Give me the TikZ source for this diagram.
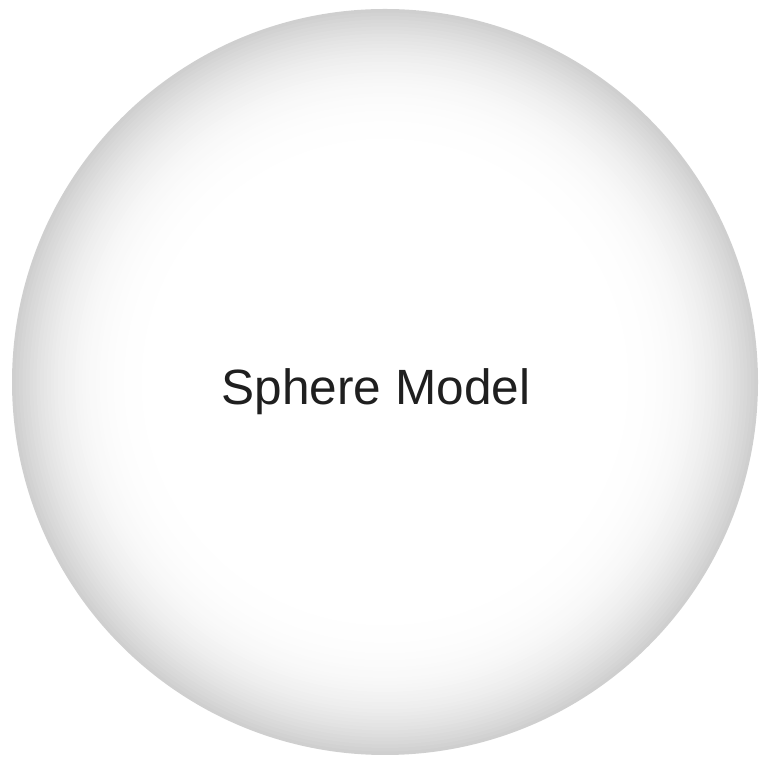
\documentclass[tikz,border=0pt]{standalone}
\usepackage{fontspec}
\setmainfont{Liberation Sans}
\begin{document}
\begin{tikzpicture}[x=0.02cm,y=0.02cm]
  \useasboundingbox (0,0) rectangle (762,763);
  % sphere: rings from grey rim to white middle
  \foreach \i in {0,...,45} {
    \pgfmathsetmacro{\r}{373-\i*3.5}
    \pgfmathsetmacro{\g}{19*(1-\i/45)^3}
    \fill[black!\g] (385,381) circle ({\r*0.02cm});
  }
  % label
  \node[anchor=base, inner sep=0pt, text=black!88, font=\fontsize{28.2}{34}\selectfont] (sphere) at (376,358) {Sphere Model};
\end{tikzpicture}
\end{document}
